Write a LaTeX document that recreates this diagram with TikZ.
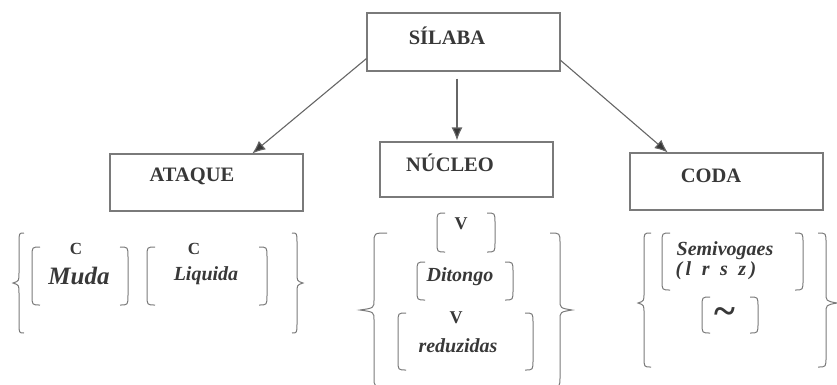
\documentclass[tikz,border=0pt]{standalone}
\usepackage{fontspec}
\setmainfont{Liberation Serif}
\usetikzlibrary{calc,arrows.meta}

\definecolor{ink}{HTML}{383838}
\definecolor{rule}{HTML}{7A7A7A}
\definecolor{wire}{HTML}{666666}

% Curly brace opening to the right: tip x, spine x, hook x, top y, middle y, bottom y
\newcommand{\CurlyOpen}[6]{%
  \draw[brk] (#3,#4) .. controls (#2,#4) .. (#2,{#4+10}) -- (#2,{#5-10})
    .. controls (#2,{#5-2}) .. (#1,#5) .. controls (#2,{#5+2}) .. (#2,{#5+10})
    -- (#2,{#6-10}) .. controls (#2,#6) .. (#3,#6);}
% Curved bracket pair: left x, right x, top y, bottom y
\newcommand{\RoundPair}[4]{%
  \draw[brk] ({#1+8},#3) .. controls (#1,#3) .. (#1,{#3+10}) -- (#1,{#4-10})
    .. controls (#1,#4) .. ({#1+8},#4);
  \draw[brk] ({#2-8},#3) .. controls (#2,#3) .. (#2,{#3+10}) -- (#2,{#4-10})
    .. controls (#2,#4) .. ({#2-8},#4);}

\tikzset{
  box/.style={draw=rule, line width=1.1pt, fill=white, inner sep=0pt},
  head/.style={inner sep=0pt, text=ink, font=\bfseries\fontsize{20.5}{24}\selectfont},
  smallcap/.style={inner sep=0pt, text=ink, font=\bfseries\fontsize{17}{20}\selectfont},
  item/.style={inner sep=0pt, text=ink, font=\bfseries\itshape\fontsize{20}{24}\selectfont},
  brk/.style={draw=rule, line width=1pt},
  arr/.style={draw=wire, line width=1.1pt, -{Latex[length=13pt,width=11pt,fill=ink]}},
}

\begin{document}
\begin{tikzpicture}[x=1pt,y=-1pt]
  \useasboundingbox (0,0) rectangle (837,384);

  % boxes
  \node[box, minimum width=193pt, minimum height=58pt] (sil) at (463.5,42) {};
  \node[box, minimum width=193pt, minimum height=57pt] (ata) at (206.5,182.5) {};
  \node[box, minimum width=173pt, minimum height=55pt] (nuc) at (466.5,169.5) {};
  \node[box, minimum width=193pt, minimum height=57pt] (cod) at (726.5,181.5) {};

  \node[head] (silT) at (447,36) {SÍLABA};
  \node[head] (ataT) at (192,176) {ATAQUE};
  \node[head] (nucT) at (450,163) {NÚCLEO};
  \node[head] (codT) at (711,176) {CODA};

  % connectors
  \coordinate (aS) at ($(sil.south west)!0.22!(sil.north west)$);
  \coordinate (aE) at ($(ata.north west)!0.736!(ata.north east)$);
  \coordinate (bS) at ($(sil.south)+(-6.5,7)$);
  \coordinate (bE) at ($(nuc.north)+(-9.5,-1)$);
  \coordinate (cS) at ($(sil.south east)!0.19!(sil.north east)$);
  \coordinate (cE) at ($(cod.north west)!0.197!(cod.north east)$);
  \draw[arr] (aS) -- (aE);
  \draw[arr] (bS) -- (bE);
  \draw[arr] (cS) -- (cE);

  % onset
  \CurlyOpen{13}{19}{24}{233}{283}{333}
  \CurlyOpen{303}{297}{292}{233}{283}{333}
  \RoundPair{32}{128}{247}{305}
  \RoundPair{147}{267}{247}{305}
  \node[smallcap] (c1) at (76,249) {C};
  \node[inner sep=0pt, text=ink, font=\bfseries\itshape\fontsize{25}{30}\selectfont] (muda) at (79,276) {Muda};
  \node[smallcap] (c2) at (194,249) {C};
  \node[item] (liq) at (206,276) {Liquida};

  % nucleus
  \CurlyOpen{360}{374}{387}{233}{310}{387}
  \CurlyOpen{572}{560}{550}{233}{310}{387}
  \RoundPair{437}{495}{213}{252}
  \RoundPair{417}{513}{262}{300}
  \RoundPair{398}{533}{313}{370}
  \node[inner sep=0pt, text=ink, font=\bfseries\fontsize{18}{21}\selectfont] (v1) at (461,224) {V};
  \node[item] (dit) at (460,277) {Ditongo};
  \node[inner sep=0pt, text=ink, font=\bfseries\fontsize{18}{21}\selectfont] (v2) at (456,318) {V};
  \node[item] (red) at (458,346) {reduzidas};

  % coda
  \CurlyOpen{638}{644}{651}{233}{303}{367}
  \CurlyOpen{837}{826}{818}{233}{303}{367}
  \RoundPair{662}{803}{233}{290}
  \RoundPair{702}{758}{297}{333}
  \node[item] (semi) at (725,251) {Semivogaes};
  \node[item] (cons) at (716,271) {(\,l\; r\; s\; z\,)};
  \node[inner sep=0pt, text=ink, font=\bfseries\fontsize{40}{40}\selectfont] (til) at (725,316) {\textasciitilde};
\end{tikzpicture}
\end{document}
